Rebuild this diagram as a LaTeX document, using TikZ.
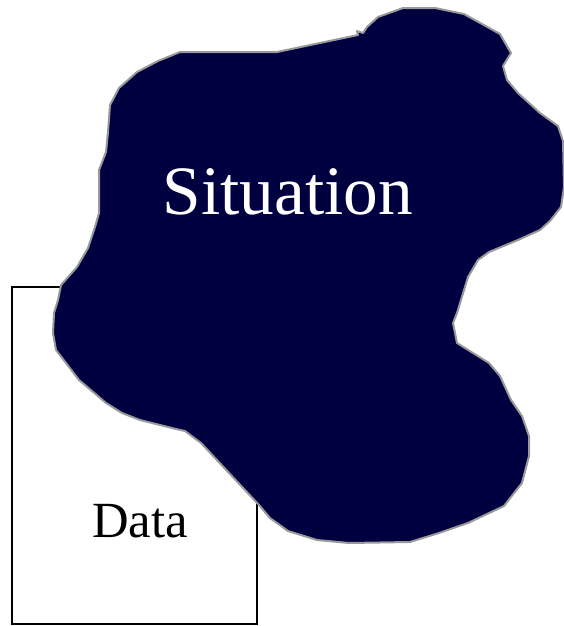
\documentclass[tikz,border=0pt]{standalone}
\usepackage{fontspec}
\setmainfont{Liberation Serif}
\usepackage{tikz}
\definecolor{situfill}{HTML}{000040}
\definecolor{situedge}{HTML}{999999}

\begin{document}
\begin{tikzpicture}[
  x=0.75pt, y=-0.75pt,
  databox/.style={draw=black, line width=1.5pt, fill=white},
  situblob/.style={draw=situedge, line width=1.5pt, fill=situfill, line join=round},
  bigtext/.style={font=\fontsize{52}{60}\selectfont, text=white},
  boxtext/.style={font=\fontsize{38}{44}\selectfont, text=black}
]
  \useasboundingbox (0,0) rectangle (564,626);
  % data frame, partly hidden by the situation
  \draw[databox] (12,287) rectangle (257,624);
  \node[boxtext] (data) at (140,521) {Data};
  % situation outline
  \draw[situblob] (180,52) -- (277,52) -- (358,35) -- (357,31) -- (363,33)
    -- (367,27) -- (378,17) -- (403,8) -- (435,8) -- (464,14) -- (500,34)
    -- (511,53) -- (503,66) -- (507,80) -- (518,93) -- (540,113) -- (558,126)
    -- (563,141) -- (564,187) -- (561,207) -- (550,221) -- (540,230)
    -- (518,240) -- (489,252) -- (478,260) -- (468,277) -- (457,313)
    -- (453,323) -- (457,343) -- (489,363) -- (500,376) -- (511,400)
    -- (522,416) -- (529,436) -- (529,456) -- (522,483) -- (504,506)
    -- (468,523) -- (439,533) -- (410,542) -- (349,543) -- (317,540)
    -- (288,531) -- (270,518) -- (259,505) -- (201,443) -- (185,431)
    -- (176,429) -- (140,420) -- (122,413) -- (106,403) -- (79,380)
    -- (56,350) -- (53,333) -- (54,313) -- (58,300) -- (61,285) -- (77,267)
    -- (88,248) -- (95,227) -- (99,213) -- (99,170) -- (106,152) -- (108,132)
    -- (110,105) -- (119,88) -- (137,72) -- (158,61) -- cycle;
  \node[bigtext] (situation) at (288,192) {Situation};
\end{tikzpicture}
\end{document}
